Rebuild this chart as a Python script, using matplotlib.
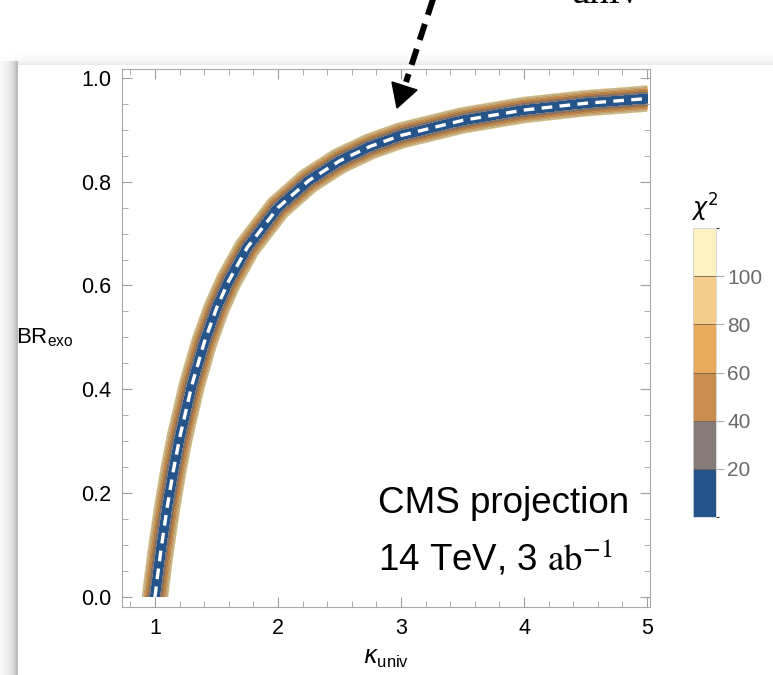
import numpy as np
import matplotlib
matplotlib.use("Agg")
import matplotlib.pyplot as plt
from matplotlib.colors import ListedColormap, BoundaryNorm
from matplotlib.patches import Polygon

plt.rcParams['font.family'] = ['Liberation Sans', 'DejaVu Sans']

# best-fit curve
kappa_pts = [1.00, 1.02, 1.05, 1.10, 1.15, 1.20, 1.30, 1.40, 1.50, 1.60, 1.75,
             2.00, 2.25, 2.50, 2.75, 3.00, 3.50, 4.00, 4.50, 5.00]
br_pts = [0.000, 0.039, 0.093, 0.174, 0.244, 0.306, 0.408, 0.490, 0.556, 0.609, 0.673,
          0.750, 0.802, 0.840, 0.868, 0.889, 0.918, 0.938, 0.951, 0.960]

chi2_levels = [0, 20, 40, 60, 80, 100, 120]
chi2_ticks = [20, 40, 60, 80, 100]
band_colors = ['#25548a', '#857b79', '#c98d4e', '#e9aa5c', '#f5cd8b', '#fef1c1']
x_ticks = [1, 2, 3, 4, 5]
y_ticks = [0.0, 0.2, 0.4, 0.6, 0.8, 1.0]

W, H = 773, 675
fig = plt.figure(figsize=(W / 100, H / 100), dpi=100)

# drop shadow of the pasted panel
bg = fig.add_axes([0, 0, 1, 1], zorder=-5)
yy, xx = np.mgrid[0:H, 0:W]
shade = np.ones((H, W))
x0, y0 = 18, 65
left = (xx < x0) & (yy >= y0 - 4)
shade[left] = 1 - 0.33 * np.exp(-(x0 - xx[left]) / 7.0)
top = (yy < y0) & (xx >= x0 - 4)
shade[top] = np.minimum(shade[top], 1 - 0.10 * np.exp(-(y0 - yy[top]) / 5.0))
bg.imshow(shade, cmap='gray', vmin=0, vmax=1, aspect='auto', interpolation='bilinear')
bg.axis('off')

ax = fig.add_axes([122 / W, 1 - 607 / H, 528 / W, 538 / H])
ax.set_xlim(0.732, 5.024)
ax.set_ylim(-0.0193, 1.017)

# chi^2 field: distance from the best-fit curve (in plot pixels)
sx, sy = 123.0, 519.0
kk = np.linspace(0.85, 5.0, 700)
bb = np.linspace(0.0, 1.0, 700)
K, B = np.meshgrid(kk, bb)
X, Y = K * sx, B * sy
px = np.array(kappa_pts) * sx
py = np.array(br_pts) * sy
d2 = np.full(K.shape, np.inf)
for i in range(len(px) - 1):
    dx, dy = px[i + 1] - px[i], py[i + 1] - py[i]
    t = np.clip(((X - px[i]) * dx + (Y - py[i]) * dy) / (dx * dx + dy * dy), 0, 1)
    d2 = np.minimum(d2, (X - px[i] - t * dx) ** 2 + (Y - py[i] - t * dy) ** 2)
chi2 = 120 * d2 / 13.0 ** 2

cmap = ListedColormap(band_colors)
norm = BoundaryNorm(chi2_levels, cmap.N)
cs = ax.contourf(K, B, chi2, levels=chi2_levels, cmap=cmap, norm=norm)
ax.contour(K, B, chi2, levels=np.arange(25, 120, 7.5), colors='#6b5037',
           linewidths=0.45, alpha=0.3)
ax.plot(kappa_pts, br_pts, color='white', lw=2.4, ls=(0, (3.2, 2.2)))

for s in ax.spines.values():
    s.set_color('#a8a8a8')
ax.set_xticks(x_ticks)
ax.set_yticks(y_ticks)
ax.set_yticklabels(['%.1f' % v for v in y_ticks])
ax.set_xticks(np.arange(0.8, 5.01, 0.2), minor=True)
ax.set_yticks(np.arange(0, 1.01, 0.05), minor=True)
ax.tick_params(which='both', direction='in', top=True, right=True, color='#a0a0a0',
               labelsize=15.5, pad=8)
ax.tick_params(which='major', length=7)
ax.tick_params(which='minor', length=4)
ax.set_xlabel(r'$\kappa_{\mathregular{univ}}$', fontsize=17, labelpad=6)
ax.text(-0.2, 0.5, r'BR$_{\mathregular{exo}}$', transform=ax.transAxes, fontsize=16,
        ha='left', va='center')

ax.text(0.485, 0.175, 'CMS projection', transform=ax.transAxes, fontsize=26.5)
ax.text(0.485, 0.07, r'14 TeV, 3 $\mathrm{ab}^{-1}$', transform=ax.transAxes,
        fontsize=26.5, math_fontfamily='stix')

# colour legend
cax = fig.add_axes([693 / W, 1 - 517 / H, 23 / W, 289 / H])
cb = fig.colorbar(cs, cax=cax, ticks=chi2_ticks, drawedges=True)
cb.outline.set_edgecolor('#d0d0d0')
cb.outline.set_linewidth(0.6)
cb.dividers.set_color('#7a6450')
cb.dividers.set_linewidth(0.6)
cax.tick_params(length=6, color='#b0b0b0', labelcolor='#6a6a6a', labelsize=15, pad=2)
fig.text(705 / W, 1 - 208 / H, r'$\chi^2$', fontsize=17, ha='center', va='center')

# annotation arrow coming from above
ov = fig.add_axes([0, 0, 1, 1], zorder=10)
ov.set_xlim(0, W)
ov.set_ylim(H, 0)
ov.axis('off')
ov.plot([434, 406], [-4, 82], color='black', lw=4.3, ls=(0, (2.8, 1.6)),
        solid_capstyle='butt')
ov.add_patch(Polygon([[392, 82], [417, 90], [397, 108]], closed=True,
                     facecolor='black', edgecolor='black'))
ov.text(571, 3, 'univ', fontsize=28, family='Liberation Serif', va='baseline')

fig.savefig('out.png', dpi=100)
